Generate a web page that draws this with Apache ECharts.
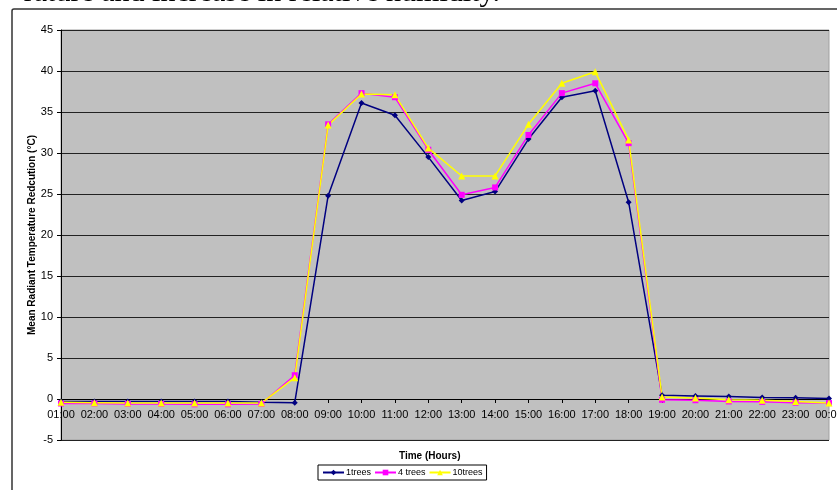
<!DOCTYPE html>
<html>
<head>
<meta charset="utf-8">
<script src="https://cdn.jsdelivr.net/npm/echarts@6/dist/echarts.min.js"></script>
<style>
  html, body { margin: 0; padding: 0; background: #fff; }
  #chart { width: 837px; height: 490px; }
</style>
</head>
<body>
<div id="chart"></div>
<script>
const hours = ['01:00','02:00','03:00','04:00','05:00','06:00','07:00','08:00','09:00','10:00','11:00','12:00',
  '13:00','14:00','15:00','16:00','17:00','18:00','19:00','20:00','21:00','22:00','23:00','00:00'];
const trees1 = [-0.3,-0.3,-0.3,-0.3,-0.3,-0.3,-0.4,-0.45,24.8,36.1,34.6,29.5,24.2,25.3,31.7,36.8,37.6,24.0,0.45,0.37,0.29,0.17,0.15,0.05];
const trees4 = [-0.55,-0.55,-0.6,-0.6,-0.65,-0.65,-0.6,2.9,33.5,37.3,36.8,30.4,24.9,25.8,32.2,37.3,38.5,31.2,-0.1,-0.15,-0.3,-0.35,-0.45,-0.5];
const trees10 = [-0.4,-0.45,-0.5,-0.5,-0.5,-0.5,-0.5,2.6,33.4,37.2,37.1,30.6,27.2,27.2,33.5,38.5,39.9,31.6,0.25,0.12,-0.1,-0.15,-0.3,-0.5];
const yTicks = { min: -5, max: 45, step: 5 };

const font = '"Liberation Sans", Arial, sans-serif';
const chart = echarts.init(document.getElementById('chart'));

// plot is 410px tall for 50 units, so the zero line sits 41px above the bottom
const zeroOffset = -410 * (0 - yTicks.min) / (yTicks.max - yTicks.min);

chart.setOption({
  backgroundColor: '#ffffff',
  animation: false,
  textStyle: { fontFamily: font },
  grid: {
    left: 61, right: 8, top: 30, bottom: 50,
    outerBoundsMode: 'none', containLabel: false,
    show: true, backgroundColor: '#c0c0c0', borderColor: '#a0a0a0', borderWidth: 1
  },
  legend: {
    left: 318, top: 465,
    itemWidth: 21, itemHeight: 7, itemGap: 3,
    padding: [3, 4, 3, 4],
    borderColor: '#000', borderWidth: 1,
    textStyle: { fontSize: 9, color: '#000', fontFamily: font, padding: [0, 0, 0, -3] },
    data: ['1trees', '4 trees', '10trees']
  },
  xAxis: {
    type: 'category',
    data: hours,
    boundaryGap: false,
    offset: zeroOffset,
    axisLine: { onZero: false, lineStyle: { color: '#000', width: 1 } },
    axisTick: { show: true, length: 4, inside: false, lineStyle: { color: '#000' } },
    axisLabel: { interval: 0, color: '#000', fontSize: 11, margin: 10, hideOverlap: false, showMinLabel: true, showMaxLabel: true },
    splitLine: { show: false }
  },
  yAxis: {
    type: 'value',
    min: yTicks.min, max: yTicks.max, interval: yTicks.step,
    name: 'Mean Radiant Temperature Redcution (°C)',
    nameLocation: 'middle', nameGap: 24, nameMoveOverlap: false,
    nameTextStyle: { fontSize: 10, fontWeight: 'bold', color: '#000', fontFamily: font },
    axisLine: { show: true, lineStyle: { color: '#000', width: 1 } },
    axisTick: { show: true, length: 4, lineStyle: { color: '#000' } },
    axisLabel: { color: '#000', fontSize: 11, margin: 8 },
    splitLine: { show: true, lineStyle: { color: '#222', width: 1 } }
  },
  graphic: [
    {
      type: 'rect', silent: true,
      shape: { x: 12, y: 9, width: 900, height: 600, r: 2 },
      style: { fill: 'none', stroke: '#333', lineWidth: 1.5 }
    },
    {
      type: 'text', left: 399, top: 451, silent: true,
      style: { text: 'Time (Hours)', font: 'bold 10px ' + font, fill: '#000' }
    },
    {
      type: 'text', x: 500, y: 8, silent: true,
      style: { text: 'rature and increase in relative humidity.', font: '30px "Liberation Serif", "Times New Roman", serif',
        fill: '#000', align: 'right', verticalAlign: 'bottom' }
    }
  ],
  series: [
    {
      name: '1trees', type: 'line', data: trees1,
      symbol: 'diamond', symbolSize: 6,
      lineStyle: { color: '#000080', width: 1.5 },
      itemStyle: { color: '#000080' }
    },
    {
      name: '4 trees', type: 'line', data: trees4,
      symbol: 'rect', symbolSize: 6,
      lineStyle: { color: '#ff00ff', width: 1.5 },
      itemStyle: { color: '#ff00ff' }
    },
    {
      name: '10trees', type: 'line', data: trees10,
      symbol: 'triangle', symbolSize: 7,
      lineStyle: { color: '#ffff00', width: 1.5 },
      itemStyle: { color: '#ffff00' }
    }
  ]
});
</script>
</body>
</html>
